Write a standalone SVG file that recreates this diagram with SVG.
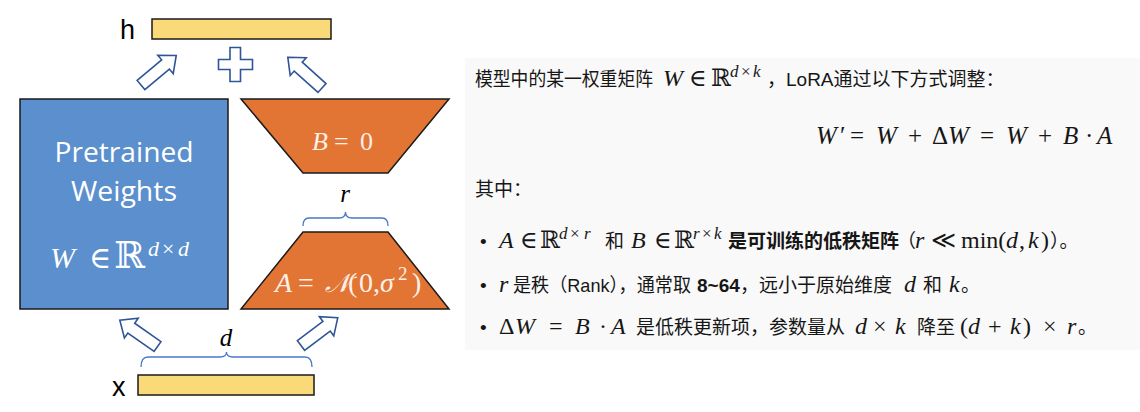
<svg xmlns="http://www.w3.org/2000/svg" width="1140" height="412" viewBox="0 0 1140 412">
<style>
.bar{fill:#f9d978;stroke:#1a1a1a;stroke-width:1.5}
.orange{fill:#e27434;stroke:#1a1a1a;stroke-width:1.5}
.blue{fill:#5b8fcd;stroke:#1a1a1a;stroke-width:1.5}
.barrow{fill:#ffffff;stroke:#2f5597;stroke-width:1.6;stroke-linejoin:miter}
.brace{fill:none;stroke:#4a78c8;stroke-width:1.3}
.lbl{font-family:"Liberation Sans","Open Sans",sans-serif;fill:#000}
.wtxt{font-family:"Open Sans","Liberation Sans",sans-serif;fill:#ffffff}
.m{font-family:"Liberation Serif","DejaVu Serif",serif;font-style:normal;font-weight:normal}
.mi{font-family:"Liberation Serif","DejaVu Serif",serif;font-style:italic;font-weight:normal}
.cn{font-family:"Liberation Sans","Noto Sans CJK SC",sans-serif;fill:#161616;font-size:19px}
.mt{font-size:24px}
.sp{font-size:17px}
</style>
<defs>
<path id="blk" d="M0,-6 L32,-6 L32,-12 L46,0 L32,12 L32,6 L0,6 Z"/>
</defs>
<rect x="465" y="58" width="675" height="292" fill="#f9f9f9"/>
<g id="node-h">
<rect class="bar" x="152" y="19" width="179" height="20"/>
<text class="lbl" x="120" y="39" font-size="27">h</text>
</g>
<g id="node-x">
<rect class="bar" x="138" y="375" width="176" height="20"/>
<text class="lbl" x="112" y="396" font-size="27">x</text>
</g>
<g id="node-pretrained">
<rect class="blue" x="20" y="99" width="208" height="210"/>
<text class="wtxt" x="124" y="162" font-size="27" text-anchor="middle" textLength="139" lengthAdjust="spacingAndGlyphs">Pretrained</text>
<text class="wtxt" x="124" y="201" font-size="27" text-anchor="middle" textLength="106" lengthAdjust="spacingAndGlyphs">Weights</text>
<text fill="#ffffff" font-size="30" y="268"><tspan class="mi" x="50">W</tspan><tspan class="m" x="89">∈</tspan><tspan class="m" x="114" font-size="37">ℝ</tspan><tspan class="mi" x="148" dy="-12" font-size="22">d</tspan><tspan class="m" x="162" font-size="22">×</tspan><tspan class="mi" x="178" font-size="22">d</tspan></text>
</g>
<g id="node-B">
<polygon class="orange" points="241,99 449,99 388,173 303,173"/>
<text fill="#fdf0e8" font-size="26" y="150"><tspan class="mi" x="312">B</tspan><tspan class="m" x="334">=</tspan><tspan class="m" x="360">0</tspan></text>
</g>
<g id="node-A">
<polygon class="orange" points="303,232 388,232 449,309 241,309"/>
<text fill="#fdf0e8" font-size="28" y="292"><tspan class="mi" x="275">A</tspan><tspan class="m" x="298">=</tspan><tspan class="mi" x="325" font-size="26">𝒩</tspan><tspan class="m" x="348">(</tspan><tspan class="m" x="359">0</tspan><tspan class="m" x="373">,</tspan><tspan class="mi" x="380">σ</tspan><tspan class="m" x="398" dy="-12" font-size="19">2</tspan><tspan class="m" x="412" dy="12">)</tspan></text>
</g>
<g id="node-r">
<path class="brace" d="M303,226 Q303,218 309,218 L339,218 Q345.5,218 345.5,212 Q345.5,218 352,218 L382,218 Q388,218 388,226"/>
<text class="mi" x="345" y="202" font-size="25" text-anchor="middle">r</text>
</g>
<g id="node-d">
<path class="brace" d="M141,367 Q141,357 148,357 L220,357 Q226.5,357 226.5,352 Q226.5,357 233,357 L305,357 Q312,357 312,367"/>
<text class="mi" x="226" y="346" font-size="25" text-anchor="middle">d</text>
</g>
<g id="node-plus">
<path class="barrow" d="M230,47.5 L240.5,47.5 L240.5,59.5 L252.5,59.5 L252.5,69.5 L240.5,69.5 L240.5,81.5 L230,81.5 L230,69.5 L218.5,69.5 L218.5,59.5 L230,59.5 Z"/>
</g>
<g id="connectors">
<use href="#blk" class="barrow" transform="translate(141,85) rotate(-40)"/>
<use href="#blk" class="barrow" transform="translate(322,88) rotate(-138)"/>
<use href="#blk" class="barrow" transform="translate(157.5,346.5) rotate(-145)"/>
<use href="#blk" class="barrow" transform="translate(301,345.5) rotate(-37)"/>
</g>
<g id="node-explanation">
<text class="cn" y="86"><tspan x="475" textLength="178" lengthAdjust="spacingAndGlyphs">模型中的某一权重矩阵</tspan><tspan class="mi mt" x="663">W</tspan><tspan class="m mt" x="689">∈</tspan><tspan class="m mt" x="711">ℝ</tspan><tspan class="mi sp" x="730" dy="-9">d</tspan><tspan class="m sp" x="741">×</tspan><tspan class="mi sp" x="753">k</tspan><tspan x="767" dy="9">，LoRA通过以下方式调整：</tspan></text>
<text y="144" font-size="25" fill="#161616"><tspan class="mi" x="816">W</tspan><tspan class="m" x="840">′</tspan><tspan class="m" x="850">=</tspan><tspan class="mi" x="876">W</tspan><tspan class="m" x="908">+</tspan><tspan class="m" x="932">Δ</tspan><tspan class="mi" x="948">W</tspan><tspan class="m" x="980">=</tspan><tspan class="mi" x="1006">W</tspan><tspan class="m" x="1038">+</tspan><tspan class="mi" x="1063">B</tspan><tspan class="m" x="1085">·</tspan><tspan class="mi" x="1097">A</tspan></text>
<text class="cn" x="475" y="196">其中：</text>
<text class="cn" x="480" y="248">•</text>
<text class="cn" y="248"><tspan class="mi mt" x="499">A</tspan><tspan class="m mt" x="520">∈</tspan><tspan class="m mt" x="540">ℝ</tspan><tspan class="mi sp" x="559" dy="-9">d</tspan><tspan class="m sp" x="570">×</tspan><tspan class="mi sp" x="584">r</tspan><tspan x="605" dy="9">和</tspan><tspan class="mi mt" x="631">B</tspan><tspan class="m mt" x="654">∈</tspan><tspan class="m mt" x="674">ℝ</tspan><tspan class="mi sp" x="693" dy="-9">r</tspan><tspan class="m sp" x="702">×</tspan><tspan class="mi sp" x="714">k</tspan><tspan x="728" dy="9" font-weight="bold">是可训练的低秩矩阵</tspan><tspan x="897">（</tspan><tspan class="mi mt" x="915">r</tspan><tspan class="m mt" x="931">≪</tspan><tspan class="m mt" x="961">min(</tspan><tspan class="mi mt" x="1006">d</tspan><tspan class="m mt" x="1019">,</tspan><tspan class="mi mt" x="1028">k</tspan><tspan class="m mt" x="1041">)</tspan><tspan x="1050">）。</tspan></text>
<text class="cn" x="480" y="292">•</text>
<text class="cn" y="292"><tspan class="mi mt" x="499">r</tspan><tspan x="513" textLength="178" lengthAdjust="spacingAndGlyphs">是秩（Rank），通常取</tspan><tspan x="697" font-weight="bold">8~64</tspan><tspan x="740">，远小于原始维度</tspan><tspan class="mi mt" x="904">d</tspan><tspan x="923">和</tspan><tspan class="mi mt" x="949">k</tspan><tspan x="961">。</tspan></text>
<text class="cn" x="480" y="334">•</text>
<text class="cn" y="334"><tspan class="m mt" x="499">Δ</tspan><tspan class="mi mt" x="515">W</tspan><tspan class="m mt" x="549">=</tspan><tspan class="mi mt" x="575">B</tspan><tspan class="m mt" x="599">·</tspan><tspan class="mi mt" x="611">A</tspan><tspan x="636">是低秩更新项，参数量从</tspan><tspan class="mi mt" x="855">d</tspan><tspan class="m mt" x="873">×</tspan><tspan class="mi mt" x="895">k</tspan><tspan x="917">降至</tspan><tspan class="m mt" x="960">(</tspan><tspan class="mi mt" x="968">d</tspan><tspan class="m mt" x="988">+</tspan><tspan class="mi mt" x="1010">k</tspan><tspan class="m mt" x="1023">)</tspan><tspan class="m mt" x="1043">×</tspan><tspan class="mi mt" x="1067">r</tspan><tspan x="1078">。</tspan></text>
</g>
</svg>
